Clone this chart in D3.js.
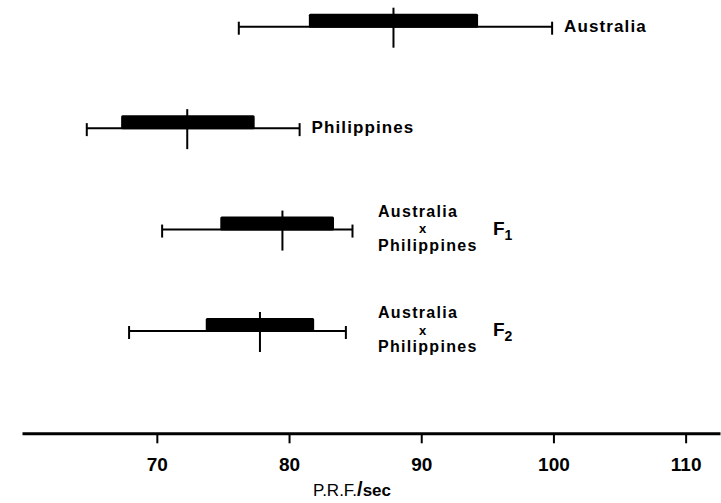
<!DOCTYPE html>
<html>
<head>
<meta charset="utf-8">
<script src="https://cdn.jsdelivr.net/npm/d3@7"></script>
<style>
  body { margin: 0; background: #fff; }
  svg { display: block; }
  text { font-family: "Liberation Sans", Arial, sans-serif; fill: #000; }
</style>
</head>
<body>
<div id="chart"></div>
<script>
// Values (P.R.F. per second)
var groups = ["Australia", "Philippines", "F1", "F2"];
var lowEnd = [76.2, 64.7, 70.4, 67.9];
var lowerQ = [81.5, 67.3, 74.8, 73.7];
var medians = [87.9, 72.3, 79.5, 77.8];
var upperQ = [94.3, 77.4, 83.4, 81.9];
var highEnd = [99.9, 80.8, 84.8, 84.3];
var tickValues = [70, 80, 90, 100, 110];
var labelLines = [["Australia"], ["Philippines"], ["Australia", "x", "Philippines"], ["Australia", "x", "Philippines"]];
var generation = [null, null, "1", "2"];

var svgWidth = 721;
var svgHeight = 503;

var svg = d3.select("#chart")
  .append("svg")
  .attr("width", svgWidth)
  .attr("height", svgHeight);

var data = groups.map(function(g, i) {
  return {
    group: g, lo: lowEnd[i], q1: lowerQ[i], med: medians[i],
    q3: upperQ[i], hi: highEnd[i], lines: labelLines[i], gen: generation[i]
  };
});

// scales
var xScale = d3.scaleLinear()
  .domain([59.8, 112.6])
  .range([22, 720]);

var yScale = d3.scalePoint()
  .domain(groups)
  .range([26.7, 331]);

var axisY = 433.3;

// axis
var bottomAxis = d3.axisBottom(xScale)
  .tickValues(tickValues)
  .tickSize(10)
  .tickSizeOuter(0);

var axisG = svg.append("g")
  .attr("transform", `translate(0, ${axisY})`)
  .call(bottomAxis);

axisG.select(".domain")
  .attr("stroke", "#000")
  .attr("stroke-width", 3);
axisG.selectAll(".tick line")
  .attr("stroke", "#000")
  .attr("stroke-width", 2);
axisG.selectAll(".tick text")
  .attr("y", 38)
  .attr("dy", 0)
  .style("font-size", "19px")
  .style("font-weight", "bold")
  .style("font-family", "'Liberation Sans', Arial, sans-serif")
  .attr("fill", "#000");

// axis title
var title = svg.append("text")
  .attr("x", 352)
  .attr("y", 496)
  .attr("text-anchor", "middle")
  .style("font-size", "17px");
title.append("tspan").text("P.R.F.");
title.append("tspan").style("font-weight", "bold").style("font-size", "20px").text("/");
title.append("tspan").style("font-weight", "bold").text("sec");

// rows
var rows = svg.selectAll(".row")
  .data(data)
  .enter()
  .append("g")
  .attr("class", "row")
  .attr("transform", d => `translate(0, ${yScale(d.group)})`);

// whisker line
rows.append("line")
  .attr("x1", d => xScale(d.lo))
  .attr("x2", d => xScale(d.hi))
  .attr("y1", 0)
  .attr("y2", 0)
  .attr("stroke", "#000")
  .attr("stroke-width", 2);

// whisker caps
rows.selectAll(".cap")
  .data(d => [d.lo, d.hi])
  .enter()
  .append("line")
  .attr("class", "cap")
  .attr("x1", v => xScale(v))
  .attr("x2", v => xScale(v))
  .attr("y1", -5)
  .attr("y2", 8)
  .attr("stroke", "#000")
  .attr("stroke-width", 2);

// box sits on top of the whisker line
rows.append("rect")
  .attr("x", d => xScale(d.q1))
  .attr("width", d => xScale(d.q3) - xScale(d.q1))
  .attr("y", -13)
  .attr("height", 14)
  .attr("rx", 1.5)
  .attr("fill", "#000");

// median
rows.append("line")
  .attr("x1", d => xScale(d.med))
  .attr("x2", d => xScale(d.med))
  .attr("y1", -19)
  .attr("y2", 21)
  .attr("stroke", "#000")
  .attr("stroke-width", 2);

// labels
rows.each(function(d) {
  var g = d3.select(this);
  if (d.lines.length === 1) {
    g.append("text")
      .attr("x", xScale(d.hi) + 12)
      .attr("y", 5)
      .style("font-size", "17px")
      .style("font-weight", "bold")
      .style("letter-spacing", "1.1px")
      .text(d.lines[0]);
  } else {
    var offsets = [-13, 3.5, 21];
    d.lines.forEach(function(line, k) {
      g.append("text")
        .attr("x", k === 1 ? 419 : 378)
        .attr("y", offsets[k])
        .style("font-size", k === 1 ? "13px" : "16px")
        .style("font-weight", "bold")
        .style("letter-spacing", "1.3px")
        .text(line);
    });
    var f = g.append("text")
      .attr("x", 493)
      .attr("y", 5)
      .style("font-size", "19px")
      .style("font-weight", "bold");
    f.append("tspan").text("F");
    f.append("tspan")
      .attr("dy", 5)
      .style("font-size", "14px")
      .text(d.gen);
  }
});
</script>
</body>
</html>
